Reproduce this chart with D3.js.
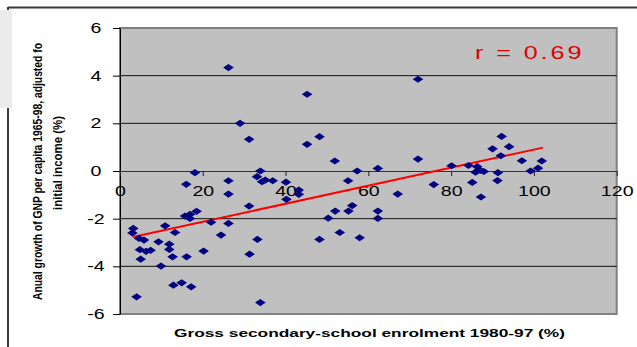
<!DOCTYPE html>
<html>
<head>
<meta charset="utf-8">
<script src="https://cdn.jsdelivr.net/npm/d3@7"></script>
<style>
  html, body { margin: 0; padding: 0; background: #fff; }
  svg { display: block; }
  text { font-family: "Liberation Sans", Arial, sans-serif; }
</style>
</head>
<body>
<svg id="chart" width="637" height="347"></svg>
<script>
// Gross secondary-school enrolment 1980-97 (%) for each country
const enrolment = [
  18.1, 16.0, 18.5, 16.9, 15.7, 16.9, 3.2, 3.0, 4.6, 5.8,
  10.9, 13.3, 9.3, 11.9, 11.9, 4.8, 6.3, 7.4, 5.0, 12.7,
  16.1, 20.2, 9.9, 12.9, 14.9, 17.2, 4.0, 22.0, 26.2, 24.4,
  26.2, 26.2, 31.2, 33.2, 31.3, 33.9, 33.1, 33.9, 34.3, 35.1,
  36.9, 40.1, 40.2, 43.2, 43.2, 26.2, 45.2, 72.0, 29.0, 31.2,
  45.2, 48.2, 51.9, 72.0, 57.3, 62.3, 55.1, 67.1, 75.8, 50.3,
  52.0, 55.2, 56.1, 53.1, 48.2, 57.9, 62.3, 62.3, 80.1, 84.2,
  86.3, 87.1, 85.9, 87.9, 91.3, 91.2, 85.1, 87.2, 92.2, 90.0,
  94.0, 92.0, 97.1, 101.9, 101.0, 99.2
];
// Annual growth of GNP per capita 1965-98, adjusted for initial income (%)
const growth = [
  -0.07, -0.56, -1.69, -1.82, -1.89, -1.99, -2.41, -2.6, -2.83, -2.9,
  -2.3, -2.58, -2.97, -3.07, -3.29, -3.3, -3.37, -3.33, -3.7, -3.6,
  -3.6, -3.36, -3.99, -4.79, -4.69, -4.86, -5.28, -2.15, -2.2, -2.69,
  -0.41, -0.97, -1.47, -2.87, -3.49, -5.52, -0.24, 0.0, -0.45, -0.38,
  -0.41, -0.47, -1.19, -0.8, -0.98, 4.34, 3.22, 3.85, 2.0, 1.33,
  1.12, 1.44, 0.42, 0.5, 0.0, 0.11, -0.41, -0.97, -0.57, -1.98,
  -1.68, -1.68, -1.45, -2.58, -2.87, -2.8, -1.68, -1.99, 0.22, 0.23,
  0.18, 0.02, -0.05, -0.02, -0.07, -0.4, -0.48, -1.09, 1.45, 0.93,
  1.02, 0.64, 0.43, 0.42, 0.12, 0.0
];
// Fitted trend line end points
const trendX = [3.1, 102.2];
const trendY = [-2.77, 0.98];
const correlationLabel = "r = 0.69";

const xTicks = [0, 20, 40, 60, 80, 100, 120];
const yTicks = [-6, -4, -2, 0, 2, 4, 6];
const xTitle = "Gross secondary-school enrolment 1980-97 (%)";
const yTitle1 = "Anual growth of GNP per capita 1965-98, adjusted fo";
const yTitle2 = "initial income (%)";

const svg = d3.select("#chart");
const plot = { left: 120, right: 616.7, top: 28, bottom: 314 };

const x = d3.scaleLinear().domain([0, 120]).range([plot.left, plot.right]);
const y = d3.scaleLinear().domain([-6, 6]).range([plot.bottom, plot.top]);

// Outer frame edges
svg.append("line").attr("x1", 8).attr("x2", 637).attr("y1", 7.5).attr("y2", 7.5)
  .attr("stroke", "#3a3a3a").attr("stroke-width", 2);
svg.append("line").attr("x1", 8).attr("x2", 8).attr("y1", 7).attr("y2", 347)
  .attr("stroke", "#3a3a3a").attr("stroke-width", 2);
svg.append("rect").attr("x", 0).attr("y", 10).attr("width", 12).attr("height", 98)
  .attr("fill", "#ebebeb");

// Plot area
svg.append("rect")
  .attr("x", plot.left).attr("y", plot.top)
  .attr("width", plot.right - plot.left).attr("height", plot.bottom - plot.top)
  .attr("fill", "#c0c0c0").attr("stroke", "#808080").attr("stroke-width", 2);

// Horizontal gridlines
svg.append("g").selectAll("line")
  .data(yTicks.filter(v => v !== 0 && v !== -6 && v !== 6))
  .join("line")
  .attr("x1", plot.left).attr("x2", plot.right)
  .attr("y1", d => y(d)).attr("y2", d => y(d))
  .attr("stroke", "#111").attr("stroke-width", 1);

// Y axis
const yAxis = svg.append("g")
  .attr("transform", `translate(${plot.left},0)`)
  .call(d3.axisLeft(y).tickValues(yTicks).tickSize(7).tickSizeOuter(0).tickFormat(d3.format("d")));
yAxis.select(".domain").attr("stroke", "#000");
yAxis.selectAll(".tick line").attr("stroke", "#000");
yAxis.selectAll(".tick text")
  .attr("x", 0).attr("text-anchor", "middle")
  .attr("transform", "translate(-24,0) scale(1.4,1)")
  .attr("font-size", 14).attr("fill", "#000")
  .attr("font-family", "Liberation Sans, Arial, sans-serif")
  .text(d => d < 0 ? "-" + Math.abs(d) : d);

// X axis along zero growth
const xAxis = svg.append("g")
  .attr("transform", `translate(0,${y(0)})`)
  .call(d3.axisBottom(x).tickValues(xTicks).tickSize(5).tickSizeOuter(0).tickPadding(10));
xAxis.select(".domain").attr("stroke", "#333");
xAxis.selectAll(".tick line").attr("stroke", "#222");
xAxis.selectAll(".tick text")
  .attr("transform", "scale(1.4,1)")
  .attr("font-size", 14).attr("fill", "#000")
  .attr("font-family", "Liberation Sans, Arial, sans-serif");

// Trend line
const trendLine = d3.line().x(d => x(d[0])).y(d => y(d[1]));
svg.append("path")
  .datum(d3.zip(trendX, trendY))
  .attr("d", trendLine)
  .attr("fill", "none").attr("stroke", "#ff0000").attr("stroke-width", 2);

// Country markers
const diamond = "M0,-3.6L5.3,0L0,3.6L-5.3,0Z";
svg.append("g").selectAll("path")
  .data(d3.zip(enrolment, growth))
  .join("path")
  .attr("d", diamond)
  .attr("transform", d => `translate(${x(d[0])},${y(d[1])})`)
  .attr("fill", "#000080");

// Correlation coefficient
svg.append("text")
  .attr("transform", "translate(475,59) scale(1.4,1)")
  .attr("x", 0).attr("y", 0)
  .attr("font-size", 18).attr("fill", "#dd0000")
  .attr("textLength", 76).attr("lengthAdjust", "spacing")
  .text(correlationLabel);

// Axis titles
svg.append("text")
  .attr("x", 174).attr("y", 337)
  .attr("font-size", 11).attr("font-weight", "bold").attr("fill", "#000")
  .attr("textLength", 391).attr("lengthAdjust", "spacingAndGlyphs")
  .text(xTitle);

svg.append("text")
  .attr("transform", "translate(42,300) rotate(-90)")
  .attr("font-size", 12).attr("font-weight", "bold").attr("fill", "#000")
  .attr("textLength", 257).attr("lengthAdjust", "spacingAndGlyphs")
  .text(yTitle1);
svg.append("text")
  .attr("transform", "translate(62,210) rotate(-90)")
  .attr("font-size", 12).attr("font-weight", "bold").attr("fill", "#000")
  .attr("textLength", 94).attr("lengthAdjust", "spacingAndGlyphs")
  .text(yTitle2);
</script>
</body>
</html>
